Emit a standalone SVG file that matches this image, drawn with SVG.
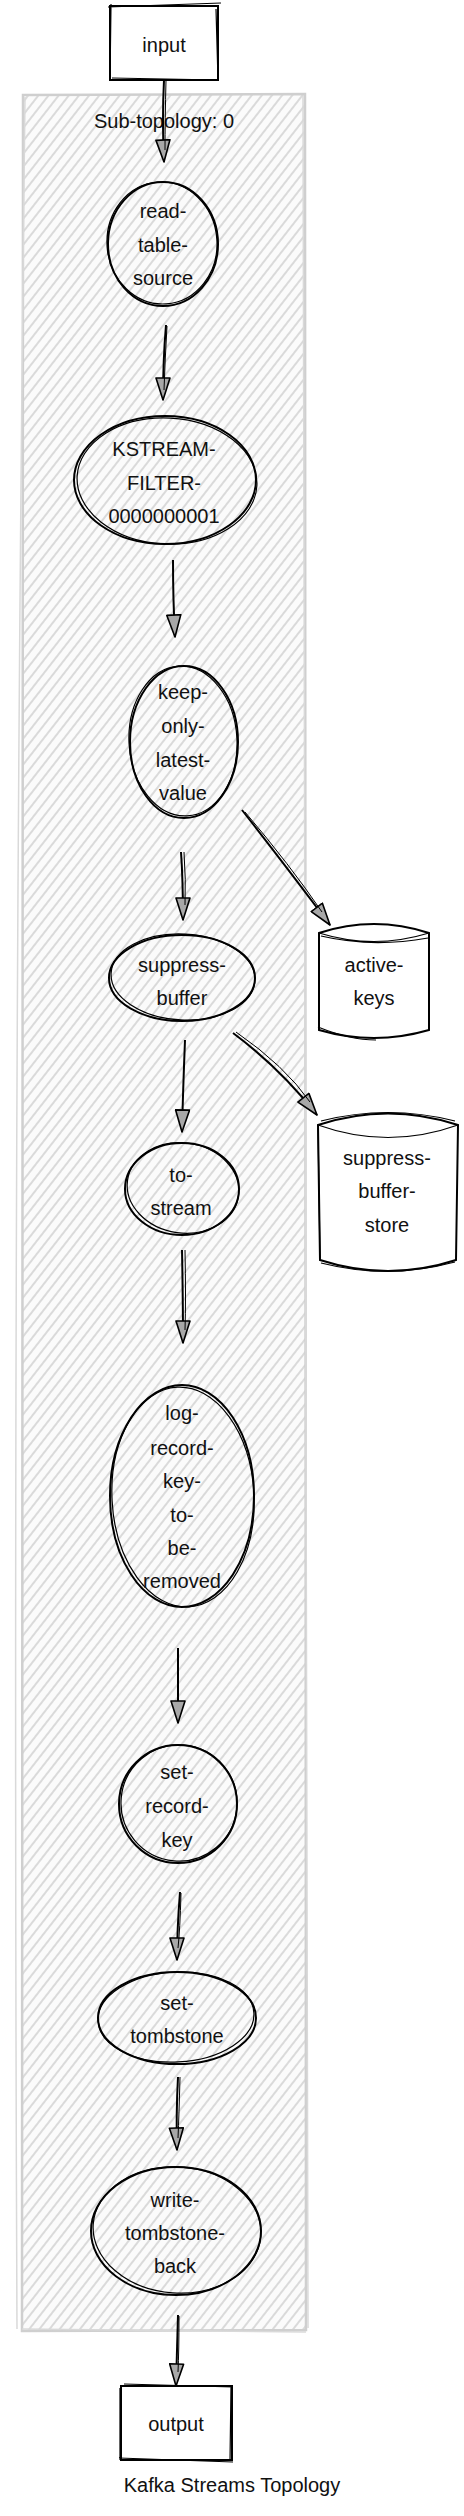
<svg xmlns="http://www.w3.org/2000/svg" width="464" height="2516" viewBox="0 0 464 2516">
<style>
.t{font-family:"Liberation Sans",Arial,sans-serif;font-size:20px;fill:#111;text-anchor:middle}
.n{fill:none;stroke:#000;stroke-width:2}
.n2{fill:none;stroke:#000;stroke-width:1.2}
.box{fill:#fff;stroke:#000;stroke-width:2}
.c{fill:none;stroke:#000;stroke-width:2}
.c2{fill:none;stroke:#000;stroke-width:1}
</style>
<defs>
<pattern id="hatch" width="8" height="8" patternUnits="userSpaceOnUse" patternTransform="rotate(38)">
<rect width="8" height="8" fill="#fbfbfb"/>
<line x1="1" y1="0" x2="1" y2="8" stroke="#d2d2d2" stroke-width="1.6"/>
</pattern>
<marker id="arr" viewBox="0 0 24 16" markerWidth="24" markerHeight="16" refX="23" refY="8" orient="auto" markerUnits="userSpaceOnUse">
<path d="M1,1 L23,8 L1,15 Z" fill="#a8a8a8" stroke="#000" stroke-width="1.6" stroke-linejoin="round"/>
</marker>
</defs>
<rect width="464" height="2516" fill="#fff"/>
<g id="subtopology-0">
<rect x="23" y="95" width="282" height="2235" fill="url(#hatch)"/>
<path d="M23,95 L305,94 L306,2330 L22,2331 Z" fill="none" stroke="#cfcfcf" stroke-width="2.5"/>
<path d="M25,97 Q12,1200 17,2329 M303,96 Q310,1200 308,2328 M22,2329 L306,2332" fill="none" stroke="#d9d9d9" stroke-width="1.5"/>
<text class="t" x="164" y="128">Sub-topology: 0</text>
</g>
<g id="connectors">
<path class="c" d="M164,80 Q162,120 164,162" marker-end="url(#arr)"/>
<path class="c2" d="M166,80 Q165,120 165,150"/>
<path class="c" d="M166,325 Q163,360 163,400" marker-end="url(#arr)"/>
<path class="c2" d="M167,326 Q165,360 164,390"/>
<path class="c" d="M173,560 Q173,600 175,637" marker-end="url(#arr)"/>
<path class="c" d="M181,852 Q183,880 183,920" marker-end="url(#arr)"/>
<path class="c2" d="M184,852 Q186,880 185,905"/>
<path class="c" d="M242,810 Q285,865 330,925" marker-end="url(#arr)"/>
<path class="c2" d="M245,812 Q290,865 322,912"/>
<path class="c" d="M185,1040 Q183,1090 182,1132" marker-end="url(#arr)"/>
<path class="c" d="M233,1033 Q280,1068 317,1115" marker-end="url(#arr)"/>
<path class="c2" d="M236,1032 Q285,1066 310,1102"/>
<path class="c" d="M182,1250 Q183,1300 183,1343" marker-end="url(#arr)"/>
<path class="c2" d="M185,1250 Q186,1300 185,1330"/>
<path class="c" d="M178,1648 Q178,1690 178,1723" marker-end="url(#arr)"/>
<path class="c" d="M180,1892 Q177,1930 177,1960" marker-end="url(#arr)"/>
<path class="c2" d="M181,1893 Q180,1930 178,1948"/>
<path class="c" d="M178,2077 Q176,2115 177,2150" marker-end="url(#arr)"/>
<path class="c2" d="M180,2077 Q179,2115 178,2138"/>
<path class="c" d="M178,2315 Q177,2350 176,2386" marker-end="url(#arr)"/>
<path class="c2" d="M179,2316 Q179,2350 178,2372"/>
</g>
<g id="input">
<rect class="box" x="110" y="6" width="108" height="74"/>
<path class="n2" d="M108,7 L221,3 M111,4 L110,80 M216,9 L218,80 M112,78 L219,80"/>
<text class="t" x="164" y="52">input</text>
</g>
<g id="read-table-source">
<ellipse class="n" cx="163" cy="244" rx="55" ry="62"/>
<ellipse class="n2" cx="162" cy="243" rx="55" ry="61" transform="rotate(-4 162 243)"/>
<text class="t" x="163" y="218">read-</text>
<text class="t" x="163" y="252">table-</text>
<text class="t" x="163" y="285">source</text>
</g>
<g id="KSTREAM-FILTER-0000000001">
<ellipse class="n" cx="165" cy="480" rx="91" ry="64"/>
<ellipse class="n2" cx="167" cy="481" rx="90" ry="63" transform="rotate(3 167 481)"/>
<text class="t" x="164" y="456">KSTREAM-</text>
<text class="t" x="164" y="490">FILTER-</text>
<text class="t" x="164" y="523">0000000001</text>
</g>
<g id="keep-only-latest-value">
<ellipse class="n" cx="184" cy="742" rx="54" ry="76"/>
<ellipse class="n2" cx="183" cy="741" rx="54" ry="75" transform="rotate(-3 183 741)"/>
<text class="t" x="183" y="699">keep-</text>
<text class="t" x="183" y="733">only-</text>
<text class="t" x="183" y="767">latest-</text>
<text class="t" x="183" y="800">value</text>
</g>
<g id="suppress-buffer">
<ellipse class="n" cx="182" cy="978" rx="73" ry="43"/>
<ellipse class="n2" cx="183" cy="977" rx="72" ry="43" transform="rotate(3 183 977)"/>
<text class="t" x="182" y="972">suppress-</text>
<text class="t" x="182" y="1005">buffer</text>
</g>
<g id="active-keys">
<path d="M319,933 Q374,915 429,933 L429,1030 Q374,1046 319,1030 Z" fill="#fff" stroke="#000" stroke-width="2"/>
<path class="n2" d="M319,933 Q374,950 429,933 M321,936 Q372,948 428,938 M318,1027 Q350,1040 376,1040"/>
<text class="t" x="374" y="972">active-</text>
<text class="t" x="374" y="1005">keys</text>
</g>
<g id="to-stream">
<ellipse class="n" cx="182" cy="1189" rx="57" ry="46"/>
<ellipse class="n2" cx="183" cy="1188" rx="56" ry="45" transform="rotate(8 183 1188)"/>
<text class="t" x="181" y="1182">to-</text>
<text class="t" x="181" y="1215">stream</text>
</g>
<g id="suppress-buffer-store">
<path d="M318,1125 Q388,1102 458,1125 L456,1260 Q388,1282 320,1260 Z" fill="#fff" stroke="#000" stroke-width="2"/>
<path class="n2" d="M318,1125 Q388,1150 458,1125 M321,1121 Q388,1104 455,1121 M318,1128 L320,1258 M321,1263 Q388,1280 455,1262"/>
<text class="t" x="387" y="1165">suppress-</text>
<text class="t" x="387" y="1198">buffer-</text>
<text class="t" x="387" y="1232">store</text>
</g>
<g id="log-record-key-to-be-removed">
<ellipse class="n" cx="182" cy="1496" rx="72" ry="111"/>
<ellipse class="n2" cx="183" cy="1497" rx="71" ry="110" transform="rotate(-3 183 1497)"/>
<text class="t" x="182" y="1420">log-</text>
<text class="t" x="182" y="1455">record-</text>
<text class="t" x="182" y="1488">key-</text>
<text class="t" x="182" y="1522">to-</text>
<text class="t" x="182" y="1555">be-</text>
<text class="t" x="182" y="1588">removed</text>
</g>
<g id="set-record-key">
<ellipse class="n" cx="178" cy="1804" rx="59" ry="59"/>
<ellipse class="n2" cx="179" cy="1803" rx="58" ry="58" transform="rotate(5 179 1803)"/>
<text class="t" x="177" y="1779">set-</text>
<text class="t" x="177" y="1813">record-</text>
<text class="t" x="177" y="1847">key</text>
</g>
<g id="set-tombstone">
<ellipse class="n" cx="177" cy="2018" rx="79" ry="46"/>
<ellipse class="n2" cx="176" cy="2017" rx="78" ry="45" transform="rotate(-3 176 2017)"/>
<text class="t" x="177" y="2010">set-</text>
<text class="t" x="177" y="2043">tombstone</text>
</g>
<g id="write-tombstone-back">
<ellipse class="n" cx="176" cy="2231" rx="85" ry="64"/>
<ellipse class="n2" cx="177" cy="2230" rx="84" ry="63" transform="rotate(4 177 2230)"/>
<text class="t" x="175" y="2207">write-</text>
<text class="t" x="175" y="2240">tombstone-</text>
<text class="t" x="175" y="2273">back</text>
</g>
<g id="output">
<rect class="box" x="121" y="2386" width="111" height="74"/>
<path class="n2" d="M124,2384 L233,2387 M120,2388 L120,2460 M231,2387 L230,2461 M119,2458 L233,2462"/>
<text class="t" x="176" y="2431">output</text>
</g>
<g id="title">
<text class="t" x="232" y="2492">Kafka Streams Topology</text>
</g>
</svg>
